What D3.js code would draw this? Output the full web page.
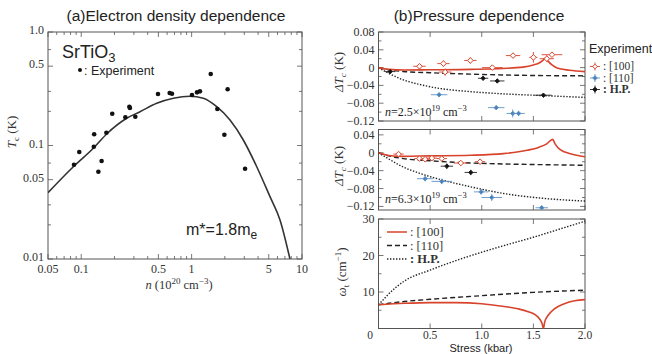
<!DOCTYPE html>
<html>
<head>
<meta charset="utf-8">
<script src="https://cdn.jsdelivr.net/npm/d3@7"></script>
<style>
	body { margin: 0; background: #fff; }
	svg { display: block; }
</style>
</head>
<body>
<script>
// ---- (a) electron density dependence ----
const expN = [0.086, 0.096, 0.131, 0.130, 0.143, 0.153, 0.169, 0.191, 0.251, 0.273, 0.276, 0.309, 0.496, 0.633, 0.664, 1.008, 1.119, 1.19, 1.49, 1.71, 1.98, 2.12, 3.05]
const expTc = [0.0677, 0.0877, 0.1255, 0.0976, 0.0588, 0.073, 0.1297, 0.1906, 0.177, 0.2197, 0.214, 0.1793, 0.284, 0.290, 0.286, 0.2786, 0.294, 0.300, 0.4266, 0.2097, 0.1245, 0.3128, 0.0624]
const fitN = [0.05, 0.0848, 0.1287, 0.170, 0.258, 0.341, 0.483, 0.683, 0.967, 1.276, 1.688, 2.227, 2.94, 3.89, 5.13, 6.32, 7.78]
const fitTc = [0.0384, 0.0650, 0.0945, 0.1263, 0.1737, 0.1985, 0.2353, 0.2605, 0.2713, 0.2605, 0.2197, 0.1677, 0.1118, 0.0650, 0.0354, 0.0221, 0.01]
const nTicks = [0.05, 0.1, 0.5, 1, 5, 10]
const nTickLabels = ["0.05", "0.1", "0.5", "1", "5", "10"]
const tcTicks = [0.01, 0.05, 0.1, 0.5, 1]
const tcTickLabels = ["0.01", "0.05", "0.1", "0.5", "1.0"]
const tcMinor = [0.02, 0.03, 0.07, 0.2, 0.3, 0.7]

// ---- (b) pressure dependence ----
const stressTicks = [0, 0.5, 1, 1.5, 2]
const stressTickLabels = ["0", "0.5", "1.0", "1.5", "2.0"]
const dT1Ticks = [0.08, 0.04, 0, -0.04, -0.08, -0.12]
const dT2Ticks = [0.04, 0, -0.04, -0.08, -0.12]
const omegaTicks = [10, 20, 30]

// panel 1: n = 2.5e19
const p1Red = [[0, 0], [0.1, -0.004], [0.25, -0.0055], [0.5, -0.005], [0.9, -0.004], [1.2, -0.002], [1.4, 0.001], [1.5, 0.006], [1.56, 0.011], [1.595, 0.017], [1.615, 0.021], [1.64, 0.015], [1.68, 0.006], [1.73, -0.001], [1.85, -0.006], [2.0, -0.009]]
const p1Dash = [[0, 0], [0.1, -0.005], [0.24, -0.0088], [0.5, -0.0115], [0.89, -0.0147], [1.2, -0.0165], [1.53, -0.0178], [2.0, -0.0185]]
const p1Dot = [[0, 0], [0.1, -0.013], [0.24, -0.0275], [0.4, -0.038], [0.57, -0.046], [0.89, -0.054], [1.21, -0.059], [1.6, -0.063], [2.0, -0.067]]
const p1ExpRed = [[0.397, 0.003, 0.06, 0.005], [0.629, 0.009, 0.06, 0.007], [0.645, -0.010, 0.06, 0.008], [0.89, 0.016, 0.06, 0.007], [1.103, 0.0, 0.1, 0.004], [1.303, 0.027, 0.07, 0.005], [1.50, 0.023, 0.04, 0.012], [1.63, 0.020, 0.07, 0.008], [1.68, 0.029, 0.1, 0.005]]
const p1ExpBlue = [[0.587, -0.061, 0.08, 0.004], [1.14, -0.090, 0.08, 0.005], [1.30, -0.103, 0.06, 0.009], [1.357, -0.103, 0.06, 0.006]]
const p1ExpHP = [[0.113, -0.009, 0.05, 0.004], [1.013, -0.024, 0.05, 0.004], [1.15, -0.030, 0.07, 0.004], [1.597, -0.062, 0.08, 0.004]]

// panel 2: n = 6.3e19
const p2Red = [[0, 0], [0.1, -0.006], [0.24, -0.008], [0.5, -0.007], [0.89, -0.0056], [1.21, -0.002], [1.44, 0.0056], [1.55, 0.012], [1.63, 0.02], [1.687, 0.030], [1.71, 0.02], [1.76, 0.007], [1.86, -0.002], [2.0, -0.009]]
const p2Dash = [[0, 0], [0.1, -0.007], [0.24, -0.013], [0.5, -0.018], [0.89, -0.0228], [1.2, -0.025], [1.53, -0.0264], [2.0, -0.028]]
const p2Dot = [[0, 0], [0.1, -0.014], [0.24, -0.032], [0.4, -0.046], [0.57, -0.058], [0.89, -0.076], [1.21, -0.091], [1.6, -0.102], [2.0, -0.108]]
const p2ExpRed = [[0.194, -0.003, 0.05, 0.003], [0.397, -0.013, 0.05, 0.003], [0.452, -0.0145, 0.05, 0.003], [0.517, -0.012, 0.05, 0.003], [0.613, -0.013, 0.05, 0.003], [0.797, -0.023, 0.07, 0.004], [0.984, -0.020, 0.05, 0.003]]
const p2ExpBlue = [[0.452, -0.058, 0.08, 0.006], [0.613, -0.064, 0.1, 0.006], [0.994, -0.0875, 0.07, 0.006], [1.097, -0.100, 0.1, 0.008], [1.581, -0.123, 0.06, 0.004]]
const p2ExpHP = [[0.662, -0.030, 0.06, 0.006], [0.894, -0.044, 0.06, 0.006]]

// panel 3: soft mode frequency
const p3Red = [[0, 6.5], [0.25, 6.9], [0.5, 7.1], [0.75, 7.1], [1.0, 6.8], [1.2, 6.1], [1.35, 5.4], [1.45, 4.6], [1.52, 3.7], [1.56, 2.6], [1.585, 1.3], [1.597, 0], [1.61, 1.8], [1.64, 3.5], [1.7, 5.3], [1.8, 6.8], [1.9, 7.6], [2.0, 7.9]]
const p3Dash = [[0, 6.5], [0.1, 6.9], [0.25, 7.4], [0.5, 8.0], [1.0, 9.0], [1.5, 9.9], [2.0, 10.5]]
const p3Dot = [[0, 6.5], [0.05, 8.0], [0.1, 9.5], [0.25, 13.0], [0.5, 16.0], [0.75, 18.6], [1.0, 20.9], [1.25, 23.0], [1.5, 25.0], [1.75, 27.2], [2.0, 29.4]]

const red = "#d8432b"
const blue = "#5f93c8"
const axisColor = "#555"
const serif = "Liberation Serif, Times New Roman, Times, serif"
const sans = "Liberation Sans, Arial, sans-serif"

const width = 652
const height = 354

const svg = d3
	.select("body")
	.append("svg")
	.attr("width", width)
	.attr("height", height)

// draw a boxed frame with inward ticks on all four sides
function frame(x, y, xMajor, yMajor, xMinor, yMinor, xLabels, yLabels, xLabOff, yLabOff, xLabSize) {
	const g = svg.append("g")
	const [x0, x1] = x.range()
	const [y0, y1] = y.range()

	const tick = (vals, len, side) => {
		vals.forEach((v) => {
			if (side === "x") {
				g.append("line").attr("x1", x(v)).attr("x2", x(v)).attr("y1", y0).attr("y2", y0 - len)
				g.append("line").attr("x1", x(v)).attr("x2", x(v)).attr("y1", y1).attr("y2", y1 + len)
			} else {
				g.append("line").attr("y1", y(v)).attr("y2", y(v)).attr("x1", x0).attr("x2", x0 + len)
				g.append("line").attr("y1", y(v)).attr("y2", y(v)).attr("x1", x1).attr("x2", x1 - len)
			}
		})
	}
	tick(xMajor, 5, "x")
	tick(xMinor, 3, "x")
	tick(yMajor, 5, "y")
	tick(yMinor, 3, "y")
	g.selectAll("line").attr("stroke", axisColor).attr("stroke-width", 0.8)

	g.append("rect")
		.attr("x", x0)
		.attr("y", y1)
		.attr("width", x1 - x0)
		.attr("height", y0 - y1)
		.attr("fill", "none")
		.attr("stroke", axisColor)
		.attr("stroke-width", 1)

	if (xLabels) {
		xMajor.forEach((v, i) => {
			g.append("text")
				.attr("x", x(v))
				.attr("y", y0 + xLabOff)
				.attr("text-anchor", "middle")
				.style("font-family", serif)
				.attr("font-size", xLabSize || 12)
				.attr("fill", "#333")
				.text(xLabels[i])
		})
	}
	if (yLabels) {
		yMajor.forEach((v, i) => {
			g.append("text")
				.attr("x", x0 - 4)
				.attr("y", y(v) + yLabOff)
				.attr("text-anchor", "end")
				.style("font-family", serif)
				.attr("font-size", 12)
				.attr("fill", "#333")
				.text(yLabels[i])
		})
	}
	return g
}

// ===== panel (a) =====
const xL = d3.scaleLog().domain([0.05, 10]).range([48, 302])
const yL = d3.scaleLog().domain([0.01, 1]).range([259, 32])

const nMinor = []
;[0.01, 0.1, 1].forEach((dec) => {
	for (let k = 2; k <= 9; k++) {
		const v = dec * k
		if (v > 0.05 && v < 10 && !nTicks.includes(+v.toFixed(3))) nMinor.push(v)
	}
})

frame(xL, yL, nTicks, tcTicks, nMinor, tcMinor, nTickLabels, tcTickLabels, 14, 2)

svg.append("clipPath")
	.attr("id", "clipA")
	.append("rect")
	.attr("x", 48)
	.attr("y", 32)
	.attr("width", 254)
	.attr("height", 227)

const fitLine = d3
	.line()
	.x((d, i) => xL(fitN[i]))
	.y((d, i) => yL(fitTc[i]))
	.curve(d3.curveMonotoneX)

svg.append("path")
	.datum(fitN)
	.attr("d", fitLine)
	.attr("fill", "none")
	.attr("stroke", "#333")
	.attr("stroke-width", 1.6)
	.attr("clip-path", "url(#clipA)")

svg.selectAll(".exp-a")
	.data(expN)
	.enter()
	.append("circle")
	.attr("class", "exp-a")
	.attr("cx", (d) => xL(d))
	.attr("cy", (d, i) => yL(expTc[i]))
	.attr("r", 2.3)
	.attr("fill", "#111")

// panel (a) texts
svg.append("text")
	.attr("x", 176)
	.attr("y", 21)
	.attr("text-anchor", "middle")
	.style("font-family", sans)
	.attr("font-size", 15.5)
	.attr("fill", "#222")
	.text("(a)Electron density dependence")

const srt = svg.append("text")
	.attr("x", 62)
	.attr("y", 58)
	.style("font-family", sans)
	.attr("font-size", 18)
	.attr("fill", "#222")
srt.append("tspan").text("SrTiO")
srt.append("tspan").attr("dy", 4).attr("font-size", 13).text("3")

svg.append("circle").attr("cx", 80).attr("cy", 70).attr("r", 2).attr("fill", "#111")
svg.append("text")
	.attr("x", 84)
	.attr("y", 75)
	.style("font-family", sans)
	.attr("font-size", 12.5)
	.attr("fill", "#222")
	.text(": Experiment")

const mstar = svg.append("text")
	.attr("x", 186)
	.attr("y", 235)
	.style("font-family", sans)
	.attr("font-size", 16)
	.attr("fill", "#222")
mstar.append("tspan").text("m*=1.8m")
mstar.append("tspan").attr("dy", 4).attr("font-size", 12).text("e")

const tcLab = svg.append("text")
	.attr("transform", "translate(16,132) rotate(-90)")
	.attr("text-anchor", "middle")
	.style("font-family", serif)
	.attr("font-size", 13)
	.attr("fill", "#333")
tcLab.append("tspan").attr("font-style", "italic").text("T")
tcLab.append("tspan").attr("dy", 3).attr("font-size", 9).text("c")
tcLab.append("tspan").attr("dy", -3).text(" (K)")

const nLab = svg.append("text")
	.attr("x", 179)
	.attr("y", 289)
	.attr("text-anchor", "middle")
	.style("font-family", serif)
	.attr("font-size", 12.5)
	.attr("fill", "#333")
nLab.append("tspan").attr("font-style", "italic").text("n")
nLab.append("tspan").text(" (10")
nLab.append("tspan").attr("dy", -5).attr("font-size", 9).text("20")
nLab.append("tspan").attr("dy", 5).text(" cm")
nLab.append("tspan").attr("dy", -5).attr("font-size", 9).text("−3")
nLab.append("tspan").attr("dy", 5).text(")")

// ===== panel (b) =====
const xR = d3.scaleLinear().domain([0, 2]).range([378.5, 585])
const y1 = d3.scaleLinear().domain([-0.12, 0.08]).range([121, 32])
const y2 = d3.scaleLinear().domain([-0.128, 0.052]).range([210, 129.5])
const y3 = d3.scaleLinear().domain([0, 30]).range([328.5, 219])

const dtLabel = (v) => (v === 0 ? "0" : (v < 0 ? "−" : "") + Math.abs(v).toFixed(2))

frame(xR, y1, stressTicks, dT1Ticks, [], [0.06, 0.02, -0.02, -0.06, -0.1], null, dT1Ticks.map(dtLabel), 0, 4)
frame(xR, y2, stressTicks, dT2Ticks, [], [0.02, -0.02, -0.06, -0.1], null, dT2Ticks.map(dtLabel), 0, 4)
frame(xR, y3, stressTicks, omegaTicks, [], [5, 15, 25], stressTickLabels.map((s, i) => (i === 0 ? "" : s)), omegaTicks.map(String), 10, 4, 11.5)

// the "0" sits below the lower left corner
svg.append("text")
	.attr("x", 370)
	.attr("y", 338.5)
	.attr("text-anchor", "middle")
	.style("font-family", serif)
	.attr("font-size", 11.5)
	.attr("fill", "#333")
	.text("0")

const panels = [
	{ y: y1, red: p1Red, dash: p1Dash, dot: p1Dot, er: p1ExpRed, eb: p1ExpBlue, eh: p1ExpHP, id: "c1" },
	{ y: y2, red: p2Red, dash: p2Dash, dot: p2Dot, er: p2ExpRed, eb: p2ExpBlue, eh: p2ExpHP, id: "c2" },
	{ y: y3, red: p3Red, dash: p3Dash, dot: p3Dot, er: [], eb: [], eh: [], id: "c3" },
]

panels.forEach((p) => {
	const [b, t] = p.y.range()
	svg.append("clipPath")
		.attr("id", p.id)
		.append("rect")
		.attr("x", 378.5)
		.attr("y", t)
		.attr("width", 585 - 378.5)
		.attr("height", b - t)

	const line = d3
		.line()
		.x((d) => xR(d[0]))
		.y((d) => p.y(d[1]))
		.curve(d3.curveMonotoneX)

	svg.append("path")
		.datum(p.dot)
		.attr("d", line)
		.attr("fill", "none")
		.attr("stroke", "#222")
		.attr("stroke-width", 1.4)
		.attr("stroke-dasharray", "1.4,1.6")
		.attr("clip-path", `url(#${p.id})`)

	svg.append("path")
		.datum(p.dash)
		.attr("d", line)
		.attr("fill", "none")
		.attr("stroke", "#222")
		.attr("stroke-width", 1.4)
		.attr("stroke-dasharray", "5,3")
		.attr("clip-path", `url(#${p.id})`)

	svg.append("path")
		.datum(p.red)
		.attr("d", line)
		.attr("fill", "none")
		.attr("stroke", red)
		.attr("stroke-width", 1.6)
		.attr("clip-path", `url(#${p.id})`)

	const addPoints = (data, color, fill, size) => {
		data.forEach((d) => {
			const cx = xR(d[0])
			const cy = p.y(d[1])
			const g = svg.append("g")
			g.append("line")
				.attr("x1", xR(d[0] - d[2])).attr("x2", xR(d[0] + d[2]))
				.attr("y1", cy).attr("y2", cy)
				.attr("stroke", color).attr("stroke-width", 0.9)
			g.append("line")
				.attr("x1", cx).attr("x2", cx)
				.attr("y1", p.y(d[1] - d[3])).attr("y2", p.y(d[1] + d[3]))
				.attr("stroke", color).attr("stroke-width", 0.9)
			g.append("path")
				.attr("d", `M${cx},${cy - size}L${cx + size},${cy}L${cx},${cy + size}L${cx - size},${cy}Z`)
				.attr("fill", fill)
				.attr("stroke", color)
				.attr("stroke-width", 1)
		})
	}
	addPoints(p.eb, blue, "#4a7fb8", 2.2)
	addPoints(p.eh, "#222", "#111", 2.2)
	addPoints(p.er, red, "#fff", 2.8)
})

// panel (b) texts
svg.append("text")
	.attr("x", 479)
	.attr("y", 21)
	.attr("text-anchor", "middle")
	.style("font-family", sans)
	.attr("font-size", 15.5)
	.attr("fill", "#222")
	.text("(b)Pressure dependence")

const nAnnot = (yPos, mant) => {
	const t = svg.append("text")
		.attr("x", 385)
		.attr("y", yPos)
		.style("font-family", serif)
		.attr("font-size", 12)
		.attr("fill", "#222")
	t.append("tspan").attr("font-style", "italic").text("n")
	t.append("tspan").text(`=${mant}×10`)
	t.append("tspan").attr("dy", -5).attr("font-size", 8.5).text("19")
	t.append("tspan").attr("dy", 5).text(" cm")
	t.append("tspan").attr("dy", -5).attr("font-size", 8.5).text("−3")
}
nAnnot(116, "2.5")
nAnnot(203, "6.3")

const dtLab = (cy) => {
	const t = svg.append("text")
		.attr("transform", `translate(343,${cy}) rotate(-90)`)
		.attr("text-anchor", "middle")
		.style("font-family", serif)
		.attr("font-size", 13)
		.attr("fill", "#333")
	t.append("tspan").attr("font-style", "italic").text("ΔT")
	t.append("tspan").attr("dy", 3).attr("font-size", 9).attr("font-style", "italic").text("c")
	t.append("tspan").attr("dy", -3).text(" (K)")
}
dtLab(72)
dtLab(166)

const omLab = svg.append("text")
	.attr("transform", "translate(346,272) rotate(-90)")
	.attr("text-anchor", "middle")
	.style("font-family", serif)
	.attr("font-size", 13)
	.attr("fill", "#333")
omLab.append("tspan").attr("font-style", "italic").text("ω")
omLab.append("tspan").attr("dy", 3).attr("font-size", 9).text("t")
omLab.append("tspan").attr("dy", -3).text(" (cm")
omLab.append("tspan").attr("dy", -5).attr("font-size", 9).text("−1")
omLab.append("tspan").attr("dy", 5).text(")")

svg.append("text")
	.attr("x", 481)
	.attr("y", 351.5)
	.attr("text-anchor", "middle")
	.style("font-family", sans)
	.attr("font-size", 11)
	.attr("fill", "#222")
	.text("Stress (kbar)")

// legend: experiment markers (right side)
svg.append("text")
	.attr("x", 589)
	.attr("y", 53)
	.style("font-family", sans)
	.attr("font-size", 12.5)
	.attr("fill", "#222")
	.text("Experiment")

const expLegend = [
	{ label: ": [100]", color: red, fill: "#fff", bold: false },
	{ label: ": [110]", color: blue, fill: "#4a7fb8", bold: false },
	{ label: ": H.P.", color: "#222", fill: "#111", bold: true },
]
expLegend.forEach((item, i) => {
	const cy = 66.5 + i * 11.5
	const cx = 595
	svg.append("line").attr("x1", cx - 5).attr("x2", cx + 5).attr("y1", cy).attr("y2", cy).attr("stroke", item.color).attr("stroke-width", 0.9)
	svg.append("line").attr("x1", cx).attr("x2", cx).attr("y1", cy - 4).attr("y2", cy + 4).attr("stroke", item.color).attr("stroke-width", 0.9)
	svg.append("path")
		.attr("d", `M${cx},${cy - 2.3}L${cx + 2.3},${cy}L${cx},${cy + 2.3}L${cx - 2.3},${cy}Z`)
		.attr("fill", item.fill)
		.attr("stroke", item.color)
	svg.append("text")
		.attr("x", 603)
		.attr("y", cy + 3.5)
		.style("font-family", serif)
		.attr("font-size", 11.5)
		.attr("font-weight", item.bold ? "bold" : "normal")
		.attr("fill", "#333")
		.text(item.label)
})

// legend: theory lines (panel 3)
const lineLegend = [
	{ label: ": [100]", color: red, dash: null, bold: false },
	{ label: ": [110]", color: "#222", dash: "5,3", bold: false },
	{ label: ": H.P.", color: "#222", dash: "1.4,1.6", bold: true },
]
lineLegend.forEach((item, i) => {
	const cy = 232 + i * 13.5
	svg.append("line")
		.attr("x1", 387)
		.attr("x2", 407)
		.attr("y1", cy)
		.attr("y2", cy)
		.attr("stroke", item.color)
		.attr("stroke-width", 1.5)
		.attr("stroke-dasharray", item.dash)
	svg.append("text")
		.attr("x", 410)
		.attr("y", cy + 4)
		.style("font-family", serif)
		.attr("font-size", 12.5)
		.attr("font-weight", item.bold ? "bold" : "normal")
		.attr("fill", "#333")
		.text(item.label)
})
</script>
</body>
</html>
